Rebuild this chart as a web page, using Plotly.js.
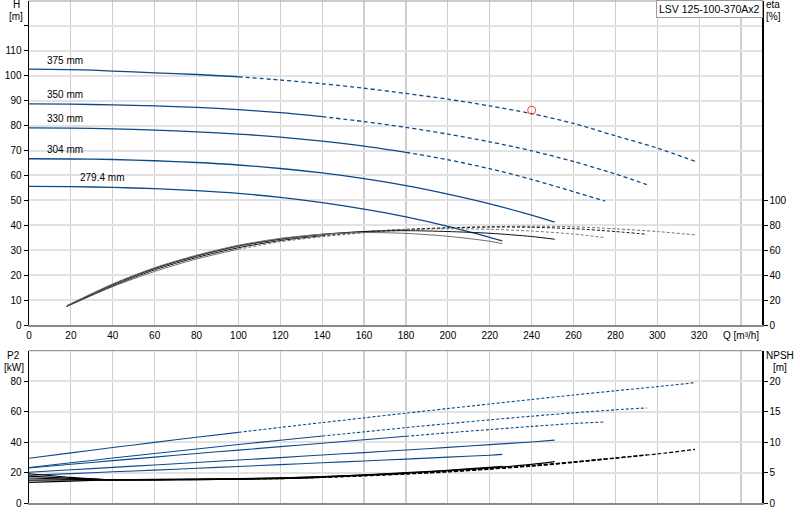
<!DOCTYPE html>
<html><head><meta charset="utf-8">
<script src="https://cdn.plot.ly/plotly-3.0.1.min.js"></script>
<style>html,body{margin:0;padding:0;background:#fff}#chart{width:800px;height:520px}</style>
</head><body><div id="chart"></div>
<script>
// ---- data ----
const diameters = ['375 mm', '350 mm', '330 mm', '304 mm', '279.4 mm'];

const qFlow = [
  [0,20,40,60,80,100,120,140,160,180,200,220,240,260,280,300,318],
  [0,20,40,60,80,100,120,140,160,180,200,220,240,260,280,295],
  [0,20,40,60,80,100,120,140,160,180,200,220,240,260,275],
  [0,20,40,60,80,100,120,140,160,180,200,220,240,251],
  [0,20,40,60,80,100,120,140,160,180,200,220,226]
];
const head = [
  [102.7,102.5,101.9,101.2,100.5,99.6,98.3,96.8,95.0,92.9,90.6,87.9,84.8,80.9,75.9,71.0,65.7],
  [88.7,88.6,88.3,87.9,87.3,86.4,85.2,83.6,81.6,79.3,76.6,73.5,69.9,65.6,60.6,56.3],
  [79.1,79.0,78.7,78.2,77.5,76.6,75.4,73.8,71.8,69.3,66.3,62.7,58.4,53.5,49.7],
  [66.7,66.6,66.4,65.9,65.2,64.2,62.8,61.0,58.7,55.9,52.5,48.6,44.1,41.3],
  [55.6,55.5,55.2,54.7,53.9,52.8,51.2,49.1,46.5,43.4,39.6,35.2,33.8]
];
const power = [
  [29.4,32.9,36.4,39.8,43.2,46.4,49.6,52.8,55.9,59.0,62.0,65.0,68.0,70.9,73.7,76.4,79.0],
  [23.3,26.4,29.5,32.5,35.5,38.4,41.2,44.0,46.7,49.5,52.1,54.6,57.0,59.2,61.2,62.4],
  [23.0,25.4,27.8,30.1,32.5,34.7,37.0,39.2,41.5,43.8,46.1,48.2,50.3,52.2,53.2],
  [20.2,21.8,23.4,25.0,26.6,28.2,29.8,31.5,33.1,34.8,36.5,38.3,40.1,41.3],
  [18.2,19.3,20.5,21.6,22.8,24.0,25.2,26.4,27.6,28.8,30.1,31.4,31.9]
];
const npsh = [
  [4.8,4.2,3.8,3.8,3.85,3.9,4.0,4.2,4.45,4.75,5.1,5.55,6.05,6.65,7.35,8.05,8.8],
  [4.4,4.05,3.8,3.8,3.85,3.9,4.0,4.2,4.5,4.8,5.15,5.6,6.1,6.7,7.4,7.9],
  [4.1,3.9,3.8,3.82,3.87,3.93,4.05,4.25,4.55,4.85,5.2,5.65,6.15,6.75,7.25],
  [3.75,3.78,3.82,3.85,3.9,3.97,4.1,4.3,4.6,4.92,5.3,5.75,6.35,6.8],
  [3.4,3.6,3.8,3.87,3.93,4.0,4.13,4.33,4.63,4.97,5.38,5.85,6.0]
];
const qEta = [
  [18,40,60,80,100,120,140,160,180,200,220,240,260,280,300,318],
  [18,40,60,80,100,120,140,160,180,200,220,240,260,280,295],
  [18,40,60,80,100,120,140,160,180,200,220,240,260,275],
  [18,40,60,80,100,120,140,160,180,200,220,240,251],
  [18,40,60,80,100,120,140,160,180,200,220,226]
];
const eta = [
  [14.8,30.8,43.0,53.0,60.8,66.8,70.8,74.0,76.3,77.9,78.9,79.3,78.8,77.2,75.0,72.3],
  [15.0,31.5,44.3,54.2,62.0,67.8,71.7,74.7,76.8,78.0,78.6,78.4,77.3,75.0,72.8],
  [15.0,32.0,45.0,55.0,63.0,68.5,72.3,75.0,76.6,77.2,76.8,75.4,73.0,70.1],
  [15.2,32.5,45.5,55.5,63.5,69.0,72.8,75.0,75.7,75.0,73.6,71.0,68.8],
  [15.5,33.0,46.0,56.0,64.0,69.5,72.8,74.2,73.5,71.2,67.2,65.3]
];
// flow from which each curve is drawn dashed (null = solid throughout)
const dashFromQ = [100, 140, 180, null, null];

const dutyQ = [240];
const dutyH = [86.2];

const qTickVals = [0,20,40,60,80,100,120,140,160,180,200,220,240,260,280,300,320,340];
const qTickText = ['0','20','40','60','80','100','120','140','160','180','200','220','240','260','280','300','320','Q [m³/h]'];
const hTickVals = [0,10,20,30,40,50,60,70,80,90,100,110,120];
const hTickText = ['0','10','20','30','40','50','60','70','80','90','100','110',''];
const etaTickVals = [0,20,40,60,80,100];
const p2TickVals = [0,20,40,60,80];
const npshTickVals = [0,5,10,15,20];
const productName = 'LSV 125-100-370Ax2';

// ---- drawing ----
const BLUE = '#0b4a8a';
const etaColors = ['#6e6e6e','#111111','#7a7a7a','#111111','#6e6e6e'];
const FONT = 'Liberation Sans, Arial, sans-serif';

function split(xs, ys, q0) {
  if (q0 === null) return [[xs, ys], null];
  const i = xs.indexOf(q0);
  return [[xs.slice(0, i + 1), ys.slice(0, i + 1)], [xs.slice(i), ys.slice(i)]];
}
const traces = [];
function addCurve(xs, ys, q0, xa, ya, color, width, dash) {
  const [s, d] = split(xs, ys, q0);
  traces.push({x: s[0], y: s[1], xaxis: xa, yaxis: ya, mode: 'lines', hoverinfo: 'skip',
    line: {color: color, width: width, shape: 'spline', smoothing: 0.8}});
  if (d) traces.push({x: d[0], y: d[1], xaxis: xa, yaxis: ya, mode: 'lines', hoverinfo: 'skip',
    line: {color: color, width: width, shape: 'spline', smoothing: 0.8, dash: dash}});
}
for (let i = 0; i < diameters.length; i++) {
  addCurve(qEta[i], eta[i], dashFromQ[i], 'x', 'y2', etaColors[i], 1, '3px,2px');
  addCurve(qFlow[i], head[i], dashFromQ[i], 'x', 'y', BLUE, 1.3, '4px,3px');
  addCurve(qFlow[i], npsh[i], dashFromQ[i], 'x2', 'y4', '#000', 1.2, '4px,2px');
  addCurve(qFlow[i], power[i], dashFromQ[i], 'x2', 'y3', BLUE, 1.1, '3px,2px');
}
traces.push({x: dutyQ, y: dutyH, xaxis: 'x', yaxis: 'y', mode: 'markers', hoverinfo: 'skip',
  marker: {symbol: 'circle-open', size: 8, color: '#ff3b3b', line: {width: 1, color: '#ff3b3b'}}});

// pixel helpers (plot area: x 29..762, y 1..503)
const L = 29, R = 762, T = 1, B = 503;
const px = x => (x - L) / (R - L);
const py = y => (B - y) / (B - T);

const tickFont = {family: FONT, size: 10, color: '#000'};
const hGrid = '#e2e2e2', vGrid = '#cfcfcf';

const annotations = [];
function txt(t, x, y, size) {
  annotations.push({text: t, xref: 'paper', yref: 'paper', x: px(x), y: py(y),
    xanchor: 'center', yanchor: 'middle', showarrow: false,
    font: {family: FONT, size: size || 10, color: '#000'}});
}
txt('H', 16, 5); txt('[m]', 16, 17);
txt('eta', 773, 5); txt('[%]', 773, 17);
txt('P2', 14, 355); txt('[kW]', 14, 367);
txt('NPSH', 780, 355); txt('[m]', 780, 367);
annotations.push({text: productName, xref: 'paper', yref: 'paper', x: px(709), y: py(9.5),
  xanchor: 'center', yanchor: 'middle', showarrow: false, bgcolor: '#fff',
  bordercolor: '#999', borderwidth: 1, borderpad: 2,
  font: {family: FONT, size: 10.5, color: '#000'}});
const labelQ = [17, 17, 17, 17, 35];
for (let i = 0; i < diameters.length; i++) {
  annotations.push({text: diameters[i], xref: 'x', yref: 'y', x: labelQ[i], y: head[i][0],
    yshift: 9, xanchor: 'center', yanchor: 'middle', showarrow: false,
    font: {family: FONT, size: 10, color: '#000'}});
}

const layout = {
  width: 800, height: 520,
  margin: {l: L, r: 800 - R, t: T, b: 520 - B, pad: 0},
  paper_bgcolor: '#fff', plot_bgcolor: '#fff',
  showlegend: false,
  font: {family: FONT, size: 10, color: '#000'},
  xaxis: {domain: [0, 1], anchor: 'y', range: [0, 350], tickmode: 'array',
    tickvals: qTickVals, ticktext: qTickText, ticks: '', tickfont: tickFont,
    showgrid: true, gridcolor: vGrid, gridwidth: 1.2, zeroline: false,
    showline: true, linecolor: '#8a8a8a', linewidth: 2, mirror: false, fixedrange: true},
  yaxis: {domain: [py(325), 1], anchor: 'x', range: [0, 130], tickmode: 'array',
    tickvals: hTickVals, ticktext: hTickText, ticks: 'outside', ticklen: 4, tickcolor: '#000',
    tickfont: tickFont, showgrid: true, gridcolor: hGrid, gridwidth: 2, zeroline: false,
    showline: true, linecolor: '#000', linewidth: 1.5},
  yaxis2: {overlaying: 'y', side: 'right', anchor: 'x', range: [0, 260], tickmode: 'array',
    tickvals: etaTickVals, ticks: 'outside', ticklen: 4, tickcolor: '#000', tickfont: tickFont,
    showgrid: false, zeroline: false, showline: true, linecolor: '#000', linewidth: 1.5},
  xaxis2: {domain: [0, 1], anchor: 'y3', range: [0, 350], tickmode: 'array',
    tickvals: qTickVals, showticklabels: false, ticks: '',
    showgrid: true, gridcolor: vGrid, gridwidth: 1.2, zeroline: false,
    showline: true, linecolor: '#8a8a8a', linewidth: 2},
  yaxis3: {domain: [0, py(350.7)], anchor: 'x2', range: [0, 100], tickmode: 'array',
    tickvals: p2TickVals, ticks: 'outside', ticklen: 4, tickcolor: '#000', tickfont: tickFont,
    showgrid: true, gridcolor: hGrid, gridwidth: 2, zeroline: false,
    showline: true, linecolor: '#000', linewidth: 1.5},
  yaxis4: {overlaying: 'y3', side: 'right', anchor: 'x2', range: [0, 25], tickmode: 'array',
    tickvals: npshTickVals, ticks: 'outside', ticklen: 4, tickcolor: '#000', tickfont: tickFont,
    showgrid: false, zeroline: false, showline: true, linecolor: '#000', linewidth: 1.5},
  shapes: [
    {type: 'line', xref: 'paper', yref: 'paper', x0: 0, x1: 1, y0: 1, y1: 1, line: {color: '#9a9a9a', width: 1.2}},
    {type: 'line', xref: 'paper', yref: 'paper', x0: 0, x1: 1, y0: py(350.7), y1: py(350.7), line: {color: '#9a9a9a', width: 1.2}}
  ],
  annotations: annotations
};

Plotly.newPlot('chart', traces, layout, {staticPlot: true, displayModeBar: false});
</script>
</body></html>
